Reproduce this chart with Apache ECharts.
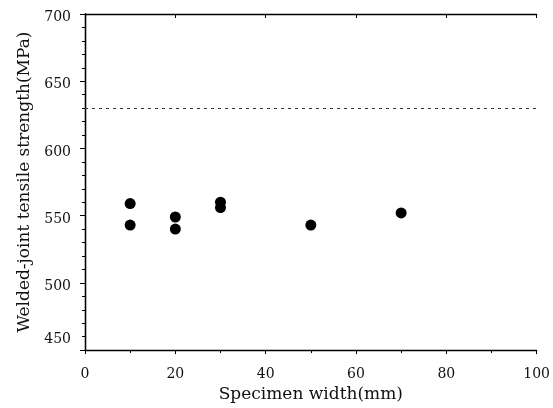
<!DOCTYPE html>
<html>
<head>
<meta charset="utf-8">
<script src="https://cdn.jsdelivr.net/npm/echarts@6/dist/echarts.min.js"></script>
<style>html,body{margin:0;padding:0;background:#fff}#c{width:553px;height:408px}</style>
</head>
<body>
<div id="c"></div>
<script>
const widths = [10, 10, 20, 20, 30, 30, 50, 70];
const strengths = [559, 543, 549, 540, 560, 556, 543, 552];
const refStrength = 630;
const xTicks = [0, 20, 40, 60, 80, 100];
const yTicks = [450, 500, 550, 600, 650, 700];

const FONT = 'DejaVu Serif';
const chart = echarts.init(document.getElementById('c'));
const axisLineStyle = { color: '#000', width: 1.3 };
chart.setOption({
  animation: false,
  backgroundColor: '#fff',
  grid: { left: 85, right: 16, top: 14, bottom: 55 },
  xAxis: [{
    type: 'value', min: xTicks[0], max: xTicks[xTicks.length - 1], interval: 20,
    name: 'Specimen width(mm)', nameLocation: 'middle', nameGap: 35,
    nameTextStyle: { fontFamily: FONT, fontSize: 17, color: '#111' },
    axisLine: { show: true, lineStyle: axisLineStyle },
    axisTick: { show: true, length: 4, lineStyle: { color: '#000' } },
    minorTick: { show: true, splitNumber: 2, length: 3, lineStyle: { color: '#000' } },
    axisLabel: { fontFamily: FONT, fontSize: 14, color: '#111', margin: 17 },
    splitLine: { show: false }
  }, {
    type: 'value', position: 'top', min: xTicks[0], max: xTicks[xTicks.length - 1], interval: 20,
    axisLine: { show: true, lineStyle: axisLineStyle },
    axisTick: { show: true, inside: true, length: 4, lineStyle: { color: '#000' } },
    axisLabel: { show: false }, splitLine: { show: false }
  }],
  yAxis: [{
    type: 'value', min: yTicks[0], max: yTicks[yTicks.length - 1], interval: 50,
    name: 'Welded-joint tensile strength(MPa)', nameLocation: 'middle', nameGap: 52,
    nameTextStyle: { fontFamily: FONT, fontSize: 17, color: '#111' },
    axisLine: { show: true, lineStyle: axisLineStyle },
    axisTick: { show: true, length: 5, lineStyle: { color: '#000' } },
    minorTick: { show: true, splitNumber: 5, length: 3, lineStyle: { color: '#000' } },
    axisLabel: {
      fontFamily: FONT, fontSize: 14, color: '#111', margin: 14,
      formatter: v => v === yTicks[0] ? '{lo|' + v + '}' : '{n|' + v + '}',
      rich: {
        lo: { fontFamily: FONT, fontSize: 14, color: '#111', padding: [0, 0, 22, 0] },
        n: { fontFamily: FONT, fontSize: 14, color: '#111', padding: [7, 0, 0, 0] }
      }
    },
    splitLine: { show: false }
  }, {
    type: 'value', position: 'right', min: yTicks[0], max: yTicks[yTicks.length - 1], interval: 50,
    axisLine: { show: true, lineStyle: axisLineStyle },
    axisTick: { show: true, inside: true, length: 4, lineStyle: { color: '#000' } },
    axisLabel: { show: false }, splitLine: { show: false }
  }],
  series: [{
    type: 'scatter',
    data: widths.map((w, i) => [w, strengths[i]]),
    symbol: 'circle', symbolSize: 11,
    itemStyle: { color: '#000', opacity: 1 },
    markLine: {
      silent: true, symbol: 'none', label: { show: false },
      lineStyle: { color: '#333', width: 1, type: [3, 4] },
      data: [{ yAxis: refStrength }]
    }
  }]
});
</script>
</body>
</html>
